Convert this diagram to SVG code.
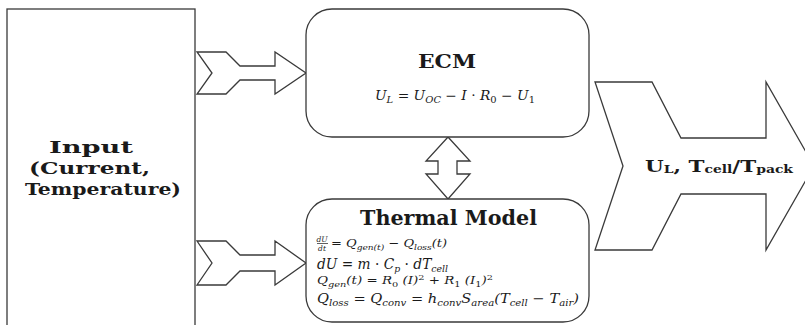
<svg xmlns="http://www.w3.org/2000/svg" width="805" height="325" viewBox="0 0 805 325">
<style>
.shape{fill:#fff;stroke:#3a3a3a;stroke-width:1.3;stroke-linejoin:miter}
.title{font-family:"DejaVu Serif","Liberation Serif",serif;font-weight:bold;fill:#1a1a1a}
.math{font-family:"DejaVu Serif","Liberation Serif",serif;font-style:italic;fill:#1a1a1a}
.up{font-style:normal}
</style>
<rect width="805" height="325" fill="#fff"/>
<g id="input">
<rect class="shape" x="7" y="9" width="188" height="330"/>
<text class="title" x="49" y="153" font-size="17" textLength="84" lengthAdjust="spacingAndGlyphs">Input</text>
<text class="title" x="29" y="174" font-size="17" textLength="121" lengthAdjust="spacingAndGlyphs">(Current,</text>
<text class="title" x="25" y="195" font-size="17" textLength="156" lengthAdjust="spacingAndGlyphs">Temperature)</text>
</g>
<g id="connectors">
<polygon class="shape" points="197,52 226,52 240,66 275,66 275,52 306,73 275,94 275,80 240,80 226,94 197,94 212,73"/>
<polygon class="shape" points="197,241 226,241 240,255 275,255 275,241 306,263 275,285 275,271 240,271 226,285 197,285 212,263"/>
<polygon class="shape" points="448,137 470,161 457,161 457,174 470,174 448,199 426,174 438,174 438,161 426,161"/>
</g>
<g id="ecm">
<rect class="shape" x="306" y="9" width="283" height="128" rx="26" ry="26"/>
<text class="title" x="418" y="68" font-size="19" textLength="58" lengthAdjust="spacingAndGlyphs">ECM</text>
<text class="math" x="375" y="100" font-size="12.5" textLength="160" lengthAdjust="spacingAndGlyphs">U<tspan font-size="9" dy="3">L</tspan><tspan dy="-3"> <tspan class="up">=</tspan> U</tspan><tspan font-size="9" dy="3">OC</tspan><tspan dy="-3"> <tspan class="up">−</tspan> I <tspan class="up">·</tspan> R</tspan><tspan font-size="9" dy="3" class="up">0</tspan><tspan dy="-3"> <tspan class="up">−</tspan> U</tspan><tspan font-size="9" dy="3" class="up">1</tspan></text>
</g>
<g id="thermal">
<rect class="shape" x="306" y="199" width="283" height="123" rx="26" ry="26"/>
<text class="title" x="360" y="225" font-size="20" textLength="177" lengthAdjust="spacingAndGlyphs">Thermal Model</text>
<text class="math" x="322" y="241.5" font-size="7.5" text-anchor="middle">dU</text>
<line x1="317" y1="243.5" x2="328" y2="243.5" stroke="#1a1a1a" stroke-width="0.7"/>
<text class="math" x="322" y="250.5" font-size="7.5" text-anchor="middle">dt</text>
<text class="math" x="331" y="247" font-size="11.5" textLength="116" lengthAdjust="spacingAndGlyphs"><tspan class="up">=</tspan> Q<tspan font-size="8" dy="3">gen(t)</tspan><tspan dy="-3"> <tspan class="up">−</tspan> Q</tspan><tspan font-size="8" dy="3">loss</tspan><tspan dy="-3">(t)</tspan></text>
<text class="math" x="317" y="269" font-size="14" textLength="131" lengthAdjust="spacingAndGlyphs">dU <tspan class="up">=</tspan> m <tspan class="up">·</tspan> C<tspan font-size="9.5" dy="3">p</tspan><tspan dy="-3"> <tspan class="up">·</tspan> dT</tspan><tspan font-size="9.5" dy="3">cell</tspan></text>
<text class="math" x="317" y="284" font-size="11" textLength="176" lengthAdjust="spacingAndGlyphs">Q<tspan font-size="8" dy="3">gen</tspan><tspan dy="-3">(t) <tspan class="up">=</tspan> R</tspan><tspan font-size="8" dy="3" class="up">0</tspan><tspan dy="-3">   (I)<tspan class="up" font-size="8" dy="-4">2</tspan></tspan><tspan dy="4"> <tspan class="up">+</tspan> R</tspan><tspan font-size="8" dy="3" class="up">1</tspan><tspan dy="-3">   (I</tspan><tspan font-size="8" dy="3" class="up">1</tspan><tspan dy="-3">)<tspan class="up" font-size="8" dy="-4">2</tspan></tspan></text>
<text class="math" x="317" y="303" font-size="13" textLength="262" lengthAdjust="spacingAndGlyphs">Q<tspan font-size="9" dy="3">loss</tspan><tspan dy="-3"> <tspan class="up">=</tspan> Q</tspan><tspan font-size="9" dy="3">conv</tspan><tspan dy="-3"> <tspan class="up">=</tspan> h</tspan><tspan font-size="9" dy="3">conv</tspan><tspan dy="-3">S</tspan><tspan font-size="9" dy="3">area</tspan><tspan dy="-3">(T</tspan><tspan font-size="9" dy="3">cell</tspan><tspan dy="-3"> <tspan class="up">−</tspan> T</tspan><tspan font-size="9" dy="3">air</tspan><tspan dy="-3">)</tspan></text>
</g>
<g id="output">
<polygon class="shape" points="595,82 652,82 681,138 766,138 766,82 814,166 766,250 766,194 681,194 652,250 595,250 623,166"/>
<text class="title" x="645" y="172" font-size="17" textLength="148" lengthAdjust="spacingAndGlyphs">U<tspan font-size="11" dy="1">L</tspan><tspan dy="-1">, T</tspan><tspan font-size="11" dy="1">cell</tspan><tspan dy="-1">/T</tspan><tspan font-size="11" dy="1">pack</tspan></text>
</g>
</svg>
